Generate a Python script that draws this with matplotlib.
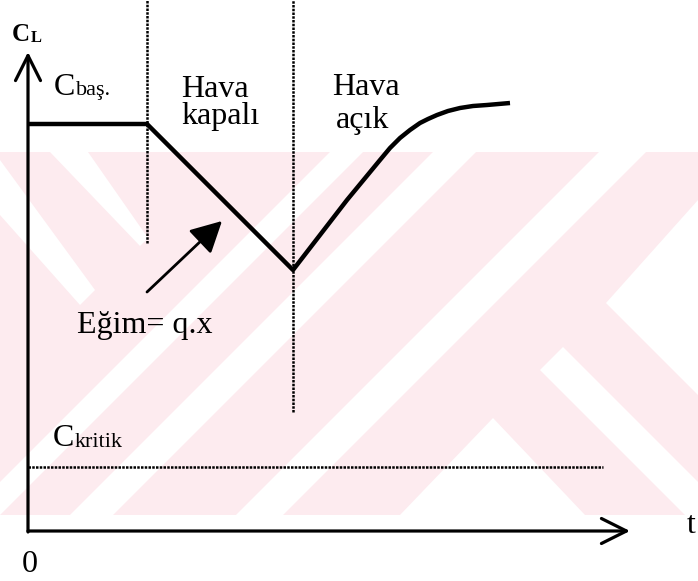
import matplotlib
matplotlib.use("Agg")
import matplotlib.pyplot as plt
from matplotlib.patches import Polygon, Rectangle

# ---------------- data (schematic units: t along x, C_L along y) ----------------
t_curve = [0, 119, 265, 319, 352, 362, 372, 382, 392, 400, 409, 420, 432, 445, 459, 482]
c_curve = [407, 407, 261, 331, 371, 383, 393, 401, 408, 412, 416, 420, 423, 425, 426, 428]
t_phase = [119, 265]          # vertical dotted boundaries
c_phase_bottom = [288, 119]   # lower ends of the dotted boundaries
c_kritik = 64
t_kritik_end = 575
t_axis_end = 602
c_axis_end = 479
slope_arrow_start = (119, 239)
slope_arrow_end = (194, 310)

FONT = "Liberation Serif"

fig = plt.figure(figsize=(6.98, 5.81), dpi=100)

# ---------------- background watermark (pixel space) ----------------
bg = fig.add_axes([0, 0, 1, 1], zorder=0)
bg.set_xlim(0, 698)
bg.set_ylim(581, 0)
bg.axis("off")
pink = "#fdebef"
bg.add_patch(Rectangle((0, 152), 698, 363, facecolor=pink, edgecolor="none"))
white_polys = [
    [(330, 152), (363, 152), (0, 515), (-33, 515)],
    [(433, 152), (476, 152), (113, 515), (70, 515)],
    [(599, 152), (646, 152), (283, 515), (236, 515)],
    [(698, 200), (606, 303), (698, 395)],
    [(563, 347), (698, 482), (698, 515), (685, 515), (540, 370)],
    [(493, 418), (400, 515), (585, 515)],
    [(50, 152), (88, 152), (148, 238), (140, 246)],
    [(0, 160), (95, 290), (80, 305), (0, 215)],
]
for p in white_polys:
    bg.add_patch(Polygon(p, closed=True, facecolor="white", edgecolor="none"))

# ---------------- main schematic ----------------
ax = fig.add_axes([0, 0, 1, 1], zorder=1)
ax.patch.set_alpha(0)
ax.set_xlim(-28, 670)
ax.set_ylim(-50, 531)
ax.axis("off")

# axes with open arrowheads
ax.annotate("", xy=(t_axis_end, 0), xytext=(0, 0),
            arrowprops=dict(arrowstyle="->,head_length=0.9,head_width=0.45",
                            lw=2.3, color="black", mutation_scale=20,
                            shrinkA=0, shrinkB=0))
ax.annotate("", xy=(0, c_axis_end), xytext=(0, -1),
            arrowprops=dict(arrowstyle="->,head_length=0.9,head_width=0.45",
                            lw=2.3, color="black", mutation_scale=20,
                            shrinkA=0, shrinkB=0))

# main curve
ax.plot(t_curve, c_curve, color="black", lw=3.2, solid_joinstyle="round",
        solid_capstyle="butt")

# dotted phase boundaries
for tp, cb in zip(t_phase, c_phase_bottom):
    ax.plot([tp, tp], [cb, 531], color="black", lw=1.8, linestyle=(0, (1, 0.5)))

# critical level
ax.plot([0, t_kritik_end], [c_kritik, c_kritik], color="black", lw=1.8,
        linestyle=(0, (1, 0.5)))

# slope arrow
ax.annotate("", xy=slope_arrow_end, xytext=slope_arrow_start,
            arrowprops=dict(arrowstyle="-|>,head_length=0.95,head_width=0.5",
                            lw=2.0, color="black", mutation_scale=20,
                            shrinkA=0, shrinkB=0))

# ---------------- text ----------------
fig.canvas.draw()
renderer = fig.canvas.get_renderer()


def sub_text(x, y, main, sub, size, subsize, dy=0, weight="normal"):
    t = ax.text(x, y, main, fontsize=size, family=FONT, ha="left",
                va="baseline", color="black", fontweight=weight)
    bb = t.get_window_extent(renderer=renderer)
    inv = ax.transData.inverted()
    xr, _ = inv.transform((bb.x1, bb.y0))
    ax.text(xr + 0.5, y - dy, sub, fontsize=subsize, family=FONT, ha="left",
            va="baseline", color="black", fontweight=weight)


sub_text(-16, 490, "C", "L", 18, 12, dy=1, weight="bold")
sub_text(26, 436, "C", "baş.", 23, 16, dy=0)
sub_text(25, 85, "C", "kritik", 23, 16, dy=1)

TK = dict(fontsize=23, family=FONT, ha="left", va="baseline")
ax.text(153, 434, "Hava", **TK)
ax.text(153, 407, "kapalı", **TK)
ax.text(304, 436, "Hava", **TK)
ax.text(308, 403, "açık", **TK)
ax.text(49, 198, "Eğim= q.x", **TK)
ax.text(2, -41, "0", fontsize=23, family=FONT, ha="center", va="baseline")
ax.text(659, -2, "t", **TK)

fig.savefig("out.png", dpi=100)
